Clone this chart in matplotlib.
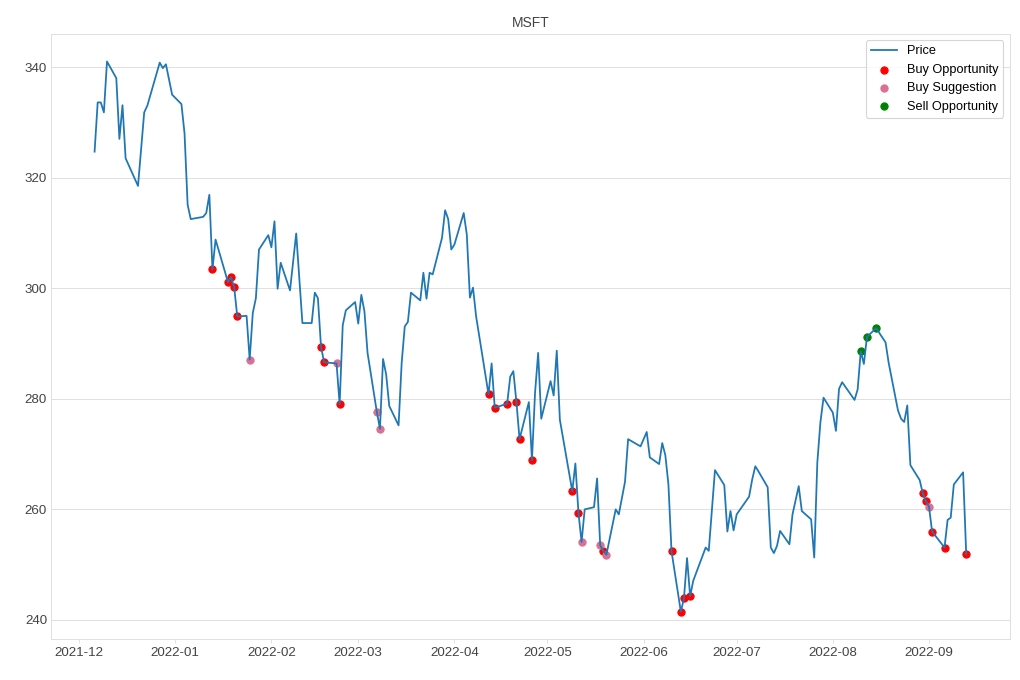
import matplotlib
matplotlib.use("Agg")
import matplotlib.pyplot as plt
import pandas as pd

# MSFT closing price (turning points)
price_dates = [
    "2021-12-06", "2021-12-07", "2021-12-08", "2021-12-09", "2021-12-10", "2021-12-13",
    "2021-12-14", "2021-12-15", "2021-12-16", "2021-12-20", "2021-12-22", "2021-12-23",
    "2021-12-27", "2021-12-28", "2021-12-29", "2021-12-31", "2022-01-03", "2022-01-04",
    "2022-01-05", "2022-01-06", "2022-01-10", "2022-01-11", "2022-01-12", "2022-01-13",
    "2022-01-14", "2022-01-18", "2022-01-19", "2022-01-20", "2022-01-21", "2022-01-24",
    "2022-01-25", "2022-01-26", "2022-01-27", "2022-01-28", "2022-01-31", "2022-02-01",
    "2022-02-02", "2022-02-03", "2022-02-04", "2022-02-07", "2022-02-09", "2022-02-11",
    "2022-02-14", "2022-02-15", "2022-02-16", "2022-02-17", "2022-02-18", "2022-02-22",
    "2022-02-23", "2022-02-24", "2022-02-25", "2022-02-28", "2022-03-01", "2022-03-02",
    "2022-03-03", "2022-03-04", "2022-03-07", "2022-03-08", "2022-03-09", "2022-03-10",
    "2022-03-11", "2022-03-14", "2022-03-15", "2022-03-16", "2022-03-17", "2022-03-18",
    "2022-03-21", "2022-03-22", "2022-03-23", "2022-03-24", "2022-03-25", "2022-03-28",
    "2022-03-29", "2022-03-30", "2022-03-31", "2022-04-01", "2022-04-04", "2022-04-05",
    "2022-04-06", "2022-04-07", "2022-04-08", "2022-04-12", "2022-04-13", "2022-04-14",
    "2022-04-18", "2022-04-19", "2022-04-20", "2022-04-21", "2022-04-22", "2022-04-25",
    "2022-04-26", "2022-04-27", "2022-04-28", "2022-04-29", "2022-05-02", "2022-05-03",
    "2022-05-04", "2022-05-05", "2022-05-09", "2022-05-10", "2022-05-11", "2022-05-12",
    "2022-05-13", "2022-05-16", "2022-05-17", "2022-05-18", "2022-05-19", "2022-05-20",
    "2022-05-23", "2022-05-24", "2022-05-26", "2022-05-27", "2022-05-31", "2022-06-02",
    "2022-06-03", "2022-06-06", "2022-06-07", "2022-06-08", "2022-06-09", "2022-06-10",
    "2022-06-13", "2022-06-14", "2022-06-15", "2022-06-16", "2022-06-17", "2022-06-21",
    "2022-06-22", "2022-06-24", "2022-06-27", "2022-06-28", "2022-06-29", "2022-06-30",
    "2022-07-01", "2022-07-05", "2022-07-06", "2022-07-07", "2022-07-08", "2022-07-11",
    "2022-07-12", "2022-07-13", "2022-07-14", "2022-07-15", "2022-07-18", "2022-07-19",
    "2022-07-21", "2022-07-22", "2022-07-25", "2022-07-26", "2022-07-27", "2022-07-28",
    "2022-07-29", "2022-08-01", "2022-08-02", "2022-08-03", "2022-08-04", "2022-08-05",
    "2022-08-08", "2022-08-09", "2022-08-10", "2022-08-11", "2022-08-12", "2022-08-15",
    "2022-08-16", "2022-08-18", "2022-08-19", "2022-08-22", "2022-08-23", "2022-08-24",
    "2022-08-25", "2022-08-26", "2022-08-29", "2022-08-30", "2022-08-31", "2022-09-01",
    "2022-09-02", "2022-09-06", "2022-09-07", "2022-09-08", "2022-09-09", "2022-09-12",
    "2022-09-13",
]
price = [
    324.7, 333.6, 333.6, 331.8, 341.0, 338.0,
    327.0, 333.1, 323.5, 318.5, 331.8, 333.0,
    340.8, 339.8, 340.5, 335.0, 333.3, 328.0,
    315.1, 312.5, 312.9, 313.6, 316.9, 303.4,
    308.8, 301.1, 302.0, 300.2, 294.9, 295.0,
    287.1, 295.5, 298.2, 307.0, 309.6, 307.4,
    312.1, 299.9, 304.6, 299.6, 309.9, 293.7,
    293.7, 299.2, 298.2, 289.4, 286.6, 286.4,
    279.0, 293.3, 296.0, 297.5, 293.6, 298.8,
    295.8, 288.3, 277.6, 274.6, 287.2, 284.4,
    278.7, 275.2, 286.5, 293.1, 293.9, 299.2,
    297.8, 302.8, 298.1, 302.8, 302.5, 309.1,
    314.1, 312.5, 307.0, 307.9, 313.6, 309.7,
    298.3, 300.1, 294.9, 280.8, 286.4, 278.4,
    279.1, 284.0, 285.0, 279.4, 272.7, 279.4,
    268.9, 281.1, 288.3, 276.4, 283.2, 280.6,
    288.7, 276.2, 263.3, 268.3, 259.3, 254.1,
    260.0, 260.4, 265.6, 253.5, 252.5, 251.8,
    260.0, 259.1, 265.0, 272.7, 271.4, 274.0,
    269.4, 268.2, 272.0, 269.8, 264.5, 252.4,
    241.5, 243.9, 251.2, 244.3, 247.1, 253.1,
    252.5, 267.1, 264.4, 256.0, 259.7, 256.2,
    259.1, 262.3, 265.4, 267.8, 266.9, 264.0,
    253.1, 252.1, 253.4, 256.1, 253.7, 259.1,
    264.2, 259.7, 258.2, 251.3, 268.5, 275.8,
    280.2, 277.5, 274.2, 281.8, 283.0, 282.2,
    279.8, 281.7, 288.6, 286.3, 291.2, 292.8,
    291.9, 290.2, 286.5, 277.9, 276.4, 275.8,
    278.8, 268.0, 265.3, 262.9, 261.5, 260.5,
    256.0, 253.1, 258.1, 258.5, 264.5, 266.7,
    251.9,
]

buy_opp_dates = [
    "2022-01-13", "2022-01-18", "2022-01-19", "2022-01-20", "2022-01-21", "2022-02-17",
    "2022-02-18", "2022-02-23", "2022-04-12", "2022-04-14", "2022-04-18", "2022-04-21",
    "2022-04-22", "2022-04-26", "2022-05-09", "2022-05-11", "2022-05-19", "2022-06-10",
    "2022-06-13", "2022-06-14", "2022-06-16", "2022-08-30", "2022-08-31", "2022-09-02",
    "2022-09-06", "2022-09-13",
]
buy_opp = [
    303.4, 301.1, 302.0, 300.2, 294.9, 289.4,
    286.6, 279.0, 280.8, 278.4, 279.1, 279.4,
    272.7, 268.9, 263.3, 259.3, 252.5, 252.4,
    241.5, 243.9, 244.3, 262.9, 261.5, 256.0,
    253.1, 251.9,
]

buy_sug_dates = ["2022-01-25", "2022-02-22", "2022-03-07", "2022-03-08",
                 "2022-05-12", "2022-05-18", "2022-05-20", "2022-09-01"]
buy_sug = [287.1, 286.4, 277.6, 274.6, 254.1, 253.5, 251.8, 260.5]

sell_opp_dates = ["2022-08-10", "2022-08-12", "2022-08-15"]
sell_opp = [288.6, 291.2, 292.8]

plt.rcParams['font.family'] = ['Liberation Sans', 'DejaVu Sans']
plt.rcParams['font.size'] = 12
fig, ax = plt.subplots(figsize=(12.75, 8.5), dpi=80)

ax.plot(pd.to_datetime(price_dates), price, color='#1f77b4', linewidth=1.6, label='Price')
ax.scatter(pd.to_datetime(buy_opp_dates), buy_opp, s=42, color='red', label='Buy Opportunity')
ax.scatter(pd.to_datetime(buy_sug_dates), buy_sug, s=42, color='palevioletred', label='Buy Suggestion')
ax.scatter(pd.to_datetime(sell_opp_dates), sell_opp, s=42, color='green', label='Sell Opportunity')

ax.set_title('MSFT', color='#444444', fontsize=12.5)
ax.grid(axis='y', color='#dddddd')
ax.set_axisbelow(True)
for s in ax.spines.values():
    s.set_color('#dddddd')
ax.tick_params(axis='x', colors='#444444', labelsize=12, length=3.5, color='#dddddd')
ax.tick_params(axis='y', colors='#444444', labelsize=12, length=0)
ax.legend(loc='upper right', fontsize=11.5)

plt.subplots_adjust(left=0.05, right=0.99, top=0.95, bottom=0.06)
plt.savefig('out.png')
